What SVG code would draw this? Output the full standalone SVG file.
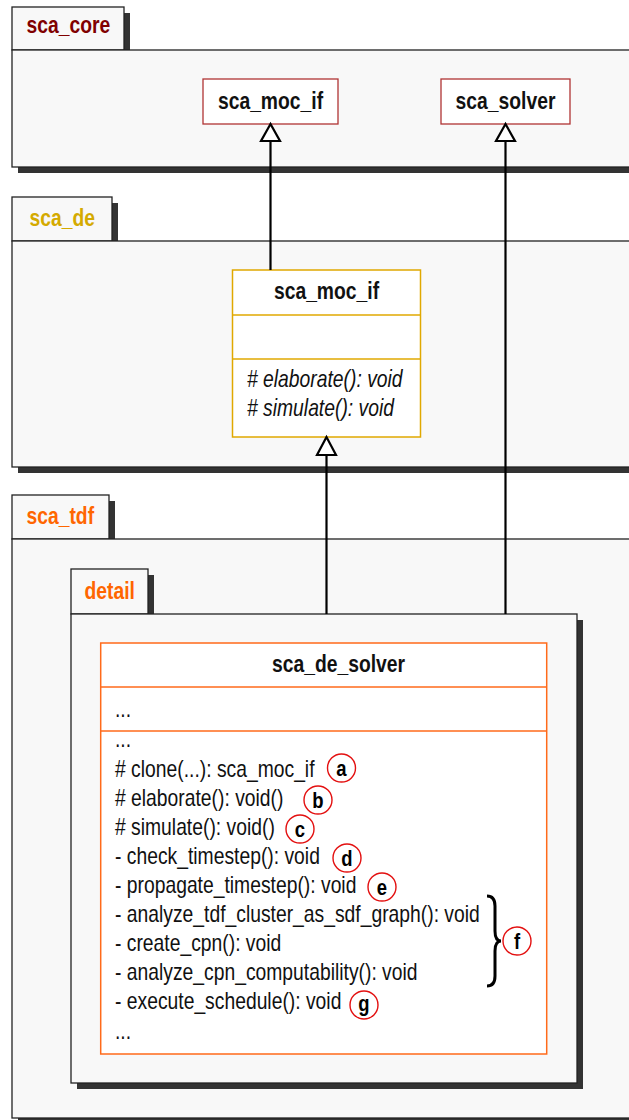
<svg xmlns="http://www.w3.org/2000/svg" width="629" height="1120" viewBox="0 0 629 1120">
<style>
.pk{fill:#f8f8f8;stroke:#222;stroke-width:1.3}
.sh{fill:#333}
.t{font-family:'Liberation Sans Narrow','Liberation Sans',Arial,sans-serif;font-size:23px;fill:#111}
.b{font-weight:bold}
.i{font-style:italic}
.m{text-anchor:middle}
.cls{fill:#fff}
.core{stroke:#b03434;stroke-width:1.3}
.de{stroke:#e0a800;stroke-width:1.5}
.tdf{stroke:#ff6a1a;stroke-width:1.5}
.conn{stroke:#000;stroke-width:2.2;fill:none}
.tri{fill:#fff;stroke:#000;stroke-width:2.2}
.cir{fill:#fff;stroke:#e31010;stroke-width:1.4}
.lt{font-family:'Liberation Sans',Arial,sans-serif;font-size:22px;font-weight:bold;text-anchor:middle;fill:#000}
</style>

<g id="pkg_sca_core">
<rect class="sh" x="18" y="13" width="112" height="43"/>
<rect class="sh" x="18" y="56" width="630" height="117"/>
<rect class="pk" x="12" y="7" width="112" height="43"/>
<rect class="pk" x="12" y="50" width="630" height="117"/>
<text class="t b" transform="translate(26.5,33) scale(0.84,1)" style="fill:#800000">sca_core</text>
</g>

<g id="pkg_sca_de">
<rect class="sh" x="18" y="203" width="100" height="44"/>
<rect class="sh" x="18" y="247" width="630" height="226"/>
<rect class="pk" x="12" y="197" width="100" height="44"/>
<rect class="pk" x="12" y="241" width="630" height="226"/>
<text class="t b" transform="translate(29.5,226) scale(0.84,1)" style="fill:#d4aa00">sca_de</text>
</g>

<g id="pkg_sca_tdf">
<rect class="sh" x="18" y="501" width="97" height="44"/>
<rect class="sh" x="18" y="545" width="630" height="590"/>
<rect class="pk" x="12" y="495" width="97" height="44"/>
<rect class="pk" x="12" y="539" width="630" height="579"/>
<text class="t b" transform="translate(26.5,524) scale(0.84,1)" style="fill:#ff6600">sca_tdf</text>
</g>

<g id="pkg_detail">
<rect class="sh" x="77" y="575" width="77" height="45"/>
<rect class="sh" x="77" y="620" width="506" height="469"/>
<rect class="pk" x="71" y="569" width="77" height="45"/>
<rect class="pk" x="71" y="614" width="506" height="469"/>
<text class="t b" transform="translate(84.5,599) scale(0.84,1)" style="fill:#ff6600">detail</text>
</g>

<g id="core_sca_moc_if">
<rect class="cls core" x="203" y="79" width="135" height="45"/>
<text class="t b m" transform="translate(270.5,109) scale(0.84,1)">sca_moc_if</text>
</g>

<g id="core_sca_solver">
<rect class="cls core" x="441" y="79" width="129" height="45"/>
<text class="t b m" transform="translate(505.5,109) scale(0.84,1)">sca_solver</text>
</g>

<g id="de_sca_moc_if">
<rect class="cls de" x="232.5" y="270" width="188" height="167"/>
<line class="de" x1="232.5" y1="315" x2="420.5" y2="315"/>
<line class="de" x1="232.5" y1="359" x2="420.5" y2="359"/>
<text class="t b m" transform="translate(326.5,299) scale(0.84,1)">sca_moc_if</text>
<g transform="translate(247,0) scale(0.84,1)">
<text class="t i" x="0" y="387"># elaborate(): void</text>
<text class="t i" x="0" y="416"># simulate(): void</text>
</g>
</g>

<g id="tdf_sca_de_solver">
<rect class="cls tdf" x="100.7" y="643" width="446" height="411"/>
<line class="tdf" x1="100.7" y1="687" x2="546.7" y2="687"/>
<line class="tdf" x1="100.7" y1="731" x2="546.7" y2="731"/>
<text class="t b m" transform="translate(338.5,672) scale(0.84,1)">sca_de_solver</text>
<g transform="translate(115,0) scale(0.84,1)">
<text class="t" x="0" y="717">...</text>
<text class="t" x="0" y="747">...</text>
<text class="t" x="0" y="777"># clone(...): sca_moc_if</text>
<text class="t" x="0" y="806"># elaborate(): void()</text>
<text class="t" x="0" y="835"># simulate(): void()</text>
<text class="t" x="0" y="864">- check_timestep(): void</text>
<text class="t" x="0" y="893">- propagate_timestep(): void</text>
<text class="t" x="0" y="922">- analyze_tdf_cluster_as_sdf_graph(): void</text>
<text class="t" x="0" y="951">- create_cpn(): void</text>
<text class="t" x="0" y="980">- analyze_cpn_computability(): void</text>
<text class="t" x="0" y="1009">- execute_schedule(): void</text>
<text class="t" x="0" y="1039">...</text>
</g>
</g>

<g id="annotations">
<path d="M487,896 Q495,896 495,906 L495,931 Q495,941 501,941 Q495,941 495,951 L495,976 Q495,986 487,986" fill="none" stroke="#000" stroke-width="3"/>
<g id="mark_a"><circle class="cir" cx="341.5" cy="768" r="14"/><text class="lt" transform="translate(341.5,775.5) scale(0.84,1)">a</text></g>
<g id="mark_b"><circle class="cir" cx="318" cy="800" r="14"/><text class="lt" transform="translate(318,807.5) scale(0.84,1)">b</text></g>
<g id="mark_c"><circle class="cir" cx="300" cy="829" r="14"/><text class="lt" transform="translate(300,836.5) scale(0.84,1)">c</text></g>
<g id="mark_d"><circle class="cir" cx="347" cy="858" r="14"/><text class="lt" transform="translate(347,865.5) scale(0.84,1)">d</text></g>
<g id="mark_e"><circle class="cir" cx="382" cy="887" r="14"/><text class="lt" transform="translate(382,894.5) scale(0.84,1)">e</text></g>
<g id="mark_f"><circle class="cir" cx="517" cy="941" r="14"/><text class="lt" transform="translate(517,948.5) scale(0.84,1)">f</text></g>
<g id="mark_g"><circle class="cir" cx="364" cy="1005" r="14"/><text class="lt" transform="translate(364,1011) scale(0.84,1)">g</text></g>
</g>

<g id="connectors">
<line class="conn" x1="270.5" y1="141" x2="270.5" y2="270"/>
<polygon class="tri" points="270.5,124 261,141 280,141"/>
<line class="conn" x1="505.5" y1="141" x2="505.5" y2="614"/>
<polygon class="tri" points="505.5,124 496,141 515,141"/>
<line class="conn" x1="326.5" y1="455" x2="326.5" y2="614"/>
<polygon class="tri" points="326.5,437 317,455 336,455"/>
</g>
</svg>
